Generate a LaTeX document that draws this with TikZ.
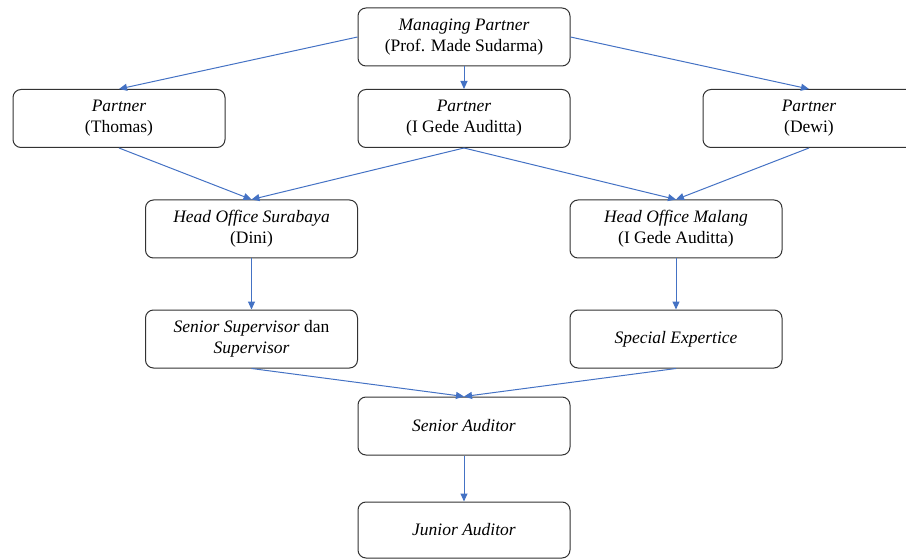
\documentclass[tikz,border=0pt]{standalone}
\usepackage{fontspec}
\setmainfont{Liberation Serif}
\usetikzlibrary{arrows.meta}
\definecolor{arrowblue}{RGB}{68,114,196}
\definecolor{boxline}{RGB}{50,50,50}
\begin{document}
\begin{tikzpicture}[x=1pt,y=-1pt,
  orgbox/.style={draw=boxline, line width=1pt, rounded corners=8pt, fill=white,
    minimum width=212pt, minimum height=58pt, align=center, inner sep=2pt,
    font=\fontsize{17.5}{21}\selectfont},
  conn/.style={draw=arrowblue, line width=1pt, -{Triangle[length=8pt,width=7pt]}}]
\useasboundingbox (0,0) rectangle (906,559);
\node[orgbox] (mp) at (464,37) {\textit{Managing Partner}\\(Prof. Made Sudarma)};
\node[orgbox] (pt) at (119,118.5) {\textit{Partner}\\(Thomas)};
\node[orgbox] (pg) at (464,118.5) {\textit{Partner}\\(I Gede Auditta)};
\node[orgbox] (pd) at (809,118.5) {\textit{Partner}\\(Dewi)};
\node[orgbox] (hs) at (251.5,229) {\textit{Head Office Surabaya}\\(Dini)};
\node[orgbox] (hm) at (676,229) {\textit{Head Office Malang}\\(I Gede Auditta)};
\node[orgbox] (ss) at (251.5,339) {\textit{Senior Supervisor} dan\\\textit{Supervisor}};
\node[orgbox] (se) at (676,339) {\textit{Special Expertice}};
\node[orgbox] (sa) at (464,426) {\textit{Senior Auditor}};
\node[orgbox, minimum height=56pt] (ja) at (464,530) {\textit{Junior Auditor}};
\draw[conn] (mp.west) -- (pt.north);
\draw[conn] (mp.south) -- (pg.north);
\draw[conn] (mp.east) -- (pd.north);
\draw[conn] (pt.south) -- (hs.north);
\draw[conn] (pg.south) -- (hs.north);
\draw[conn] (pg.south) -- (hm.north);
\draw[conn] (pd.south) -- (hm.north);
\draw[conn] (hs.south) -- (ss.north);
\draw[conn] (hm.south) -- (se.north);
\draw[conn] (ss.south) -- (sa.north);
\draw[conn] (se.south) -- (sa.north);
\draw[conn] (sa.south) -- (ja.north);
\end{tikzpicture}
\end{document}
